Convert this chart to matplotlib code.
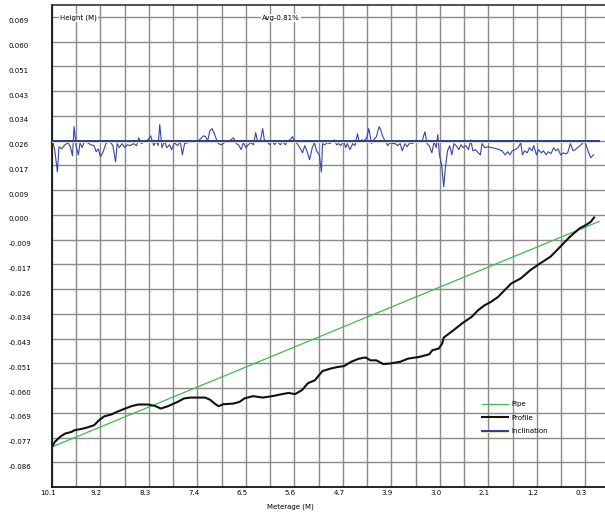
import numpy as np
import matplotlib
matplotlib.use("Agg")
import matplotlib.pyplot as plt
import matplotlib.patheffects as pe
from matplotlib.transforms import ScaledTranslation

# axis ticks (as printed on the chart)
x_tick_labels = ["10.1", "9.2", "8.3", "7.4", "6.5", "5.6", "4.7", "3.9", "3.0", "2.1", "1.2", "0.3"]
x_start, x_step = 10.15, 0.9
y_step = 0.06 / 7
y_tick_labels = ["0.069", "0.060", "0.051", "0.043", "0.034", "0.026", "0.017", "0.009", "0.000",
                 "-0.009", "-0.017", "-0.026", "-0.034", "-0.043", "-0.051", "-0.060", "-0.069",
                 "-0.077", "-0.086"]

# pipe (straight line between ends)
pipe_x = [10.15, 0.0]
pipe_y = [-0.0804, -0.0023]

# measured profile
profile_x = [10.15, 10.10, 10.00, 9.91, 9.79, 9.73, 9.64, 9.52, 9.37, 9.28, 9.18, 9.04, 8.95, 8.82,
             8.68, 8.55, 8.37, 8.24, 8.13, 8.00, 7.82, 7.70, 7.58, 7.31, 7.22, 7.13, 7.06, 6.97,
             6.79, 6.67, 6.58, 6.42, 6.24, 6.06, 5.88, 5.76, 5.64, 5.51, 5.40, 5.27, 5.22, 5.13,
             4.97, 4.85, 4.73, 4.60, 4.45, 4.33, 4.24, 4.13, 4.00, 3.88, 3.69, 3.54, 3.33, 3.15,
             3.09, 2.97, 2.91, 2.88, 2.78, 2.66, 2.54, 2.36, 2.24, 2.12, 2.00, 1.87, 1.75, 1.63,
             1.45, 1.27, 1.09, 0.90, 0.72, 0.54, 0.36, 0.24, 0.15, 0.09]
profile_y = [-0.0804, -0.0787, -0.0769, -0.0758, -0.0752, -0.0746, -0.0743, -0.0738, -0.0729,
             -0.0712, -0.0698, -0.0691, -0.0683, -0.0673, -0.0663, -0.0657, -0.0657, -0.0662,
             -0.0671, -0.0663, -0.0648, -0.0636, -0.0633, -0.0633, -0.0640, -0.0654, -0.0663,
             -0.0656, -0.0654, -0.0648, -0.0636, -0.0628, -0.0633, -0.0628, -0.0621, -0.0617,
             -0.0621, -0.0607, -0.0583, -0.0573, -0.0561, -0.0541, -0.0532, -0.0527, -0.0524,
             -0.0509, -0.0498, -0.0494, -0.0504, -0.0504, -0.0517, -0.0515, -0.0509, -0.0498,
             -0.0492, -0.0483, -0.0469, -0.0463, -0.0446, -0.0425, -0.0411, -0.0394, -0.0376,
             -0.0353, -0.0330, -0.0313, -0.0301, -0.0284, -0.0261, -0.0238, -0.0220, -0.0191,
             -0.0168, -0.0145, -0.0111, -0.0076, -0.0047, -0.0035, -0.0024, -0.0009]

# inclination
incl_base = 0.0257
incl_x = [10.15, 10.14, 10.10, 10.05, 10.02, 9.97, 9.91, 9.85, 9.81, 9.77, 9.74,
          9.70, 9.66, 9.63, 9.59, 9.55, 9.49, 9.43, 9.37, 9.33, 9.29,
          9.25, 9.20, 9.15, 9.11, 9.06, 9.02, 8.97, 8.94, 8.90, 8.85,
          8.80, 8.75, 8.70, 8.64, 8.58, 8.54, 8.49, 8.43, 8.37, 8.32,
          8.29, 8.26, 8.22, 8.18, 8.15, 8.11, 8.06, 8.02, 7.97, 7.93,
          7.88, 7.82, 7.77, 7.73, 7.69,
          7.55, 7.43, 7.34, 7.30, 7.26, 7.22, 7.18, 7.13, 7.09, 7.06,
          7.01, 6.95, 6.89, 6.83, 6.78, 6.73, 6.69, 6.64, 6.60, 6.55,
          6.51, 6.46, 6.41, 6.37, 6.33, 6.28, 6.24, 6.21, 6.16, 6.11,
          6.07, 6.02, 5.98, 5.91, 5.87, 5.82, 5.78, 5.73, 5.69, 5.64,
          5.60, 5.55, 5.50, 5.46, 5.42, 5.37, 5.32, 5.28, 5.24, 5.19,
          5.15,
          5.13, 5.09, 5.04, 4.99, 4.95, 4.91, 4.87, 4.83, 4.79, 4.74,
          4.70, 4.67, 4.62, 4.57, 4.53, 4.48, 4.45, 4.40, 4.36, 4.31,
          4.27, 4.22, 4.18, 4.13, 4.08, 4.05, 4.01, 3.97, 3.92, 3.88,
          3.83, 3.78, 3.74, 3.69, 3.65, 3.60, 3.56, 3.51, 3.47, 3.40,
          3.34, 3.28, 3.23, 3.19, 3.15, 3.10, 3.06, 3.02, 2.99, 2.96,
          2.92, 2.88, 2.85, 2.81, 2.77, 2.73, 2.69,
          2.65, 2.60, 2.56, 2.52, 2.47, 2.42, 2.38, 2.34, 2.29, 2.24,
          2.20, 2.17, 2.12, 2.06, 1.99, 1.89, 1.80, 1.74, 1.69, 1.65,
          1.61, 1.56, 1.50, 1.45, 1.42, 1.38, 1.33, 1.29, 1.24, 1.21,
          1.16, 1.12, 1.07, 1.03, 0.98, 0.94, 0.89, 0.84, 0.80, 0.76,
          0.71, 0.66, 0.62, 0.58, 0.53, 0.48, 0.44, 0.40, 0.35, 0.31,
          0.27, 0.24, 0.19, 0.15, 0.10]
incl_y = [0.0257, 0.0257, 0.0226, 0.0149, 0.0236, 0.0229, 0.0243, 0.0250, 0.0236, 0.0205, 0.0306,
          0.0236, 0.0208, 0.0250, 0.0233, 0.0254, 0.0250, 0.0243, 0.0240, 0.0219, 0.0229,
          0.0201, 0.0219, 0.0247, 0.0254, 0.0250, 0.0240, 0.0184, 0.0247, 0.0233, 0.0247,
          0.0233, 0.0243, 0.0240, 0.0247, 0.0240, 0.0267, 0.0247, 0.0254, 0.0260, 0.0274,
          0.0257, 0.0240, 0.0257, 0.0240, 0.0313, 0.0233, 0.0254, 0.0233, 0.0243, 0.0226,
          0.0250, 0.0240, 0.0254, 0.0208, 0.0247,
          0.0254, 0.0257, 0.0274, 0.0271, 0.0257, 0.0292, 0.0299, 0.0278, 0.0257, 0.0247,
          0.0243, 0.0250, 0.0254, 0.0260, 0.0267, 0.0247, 0.0243, 0.0226, 0.0250, 0.0233,
          0.0243, 0.0250, 0.0243, 0.0285, 0.0250, 0.0260, 0.0299, 0.0260, 0.0254, 0.0243,
          0.0257, 0.0243, 0.0254, 0.0243, 0.0254, 0.0243, 0.0257, 0.0260, 0.0271, 0.0254,
          0.0247, 0.0233, 0.0215, 0.0240, 0.0222, 0.0191, 0.0233, 0.0250, 0.0222, 0.0208,
          0.0149,
          0.0247, 0.0243, 0.0250, 0.0247, 0.0254, 0.0260, 0.0243, 0.0247, 0.0240, 0.0257,
          0.0233, 0.0247, 0.0226, 0.0247, 0.0240, 0.0281, 0.0254, 0.0260, 0.0257, 0.0267,
          0.0299, 0.0247, 0.0260, 0.0271, 0.0306, 0.0295, 0.0271, 0.0257, 0.0240, 0.0250,
          0.0247, 0.0247, 0.0240, 0.0247, 0.0222, 0.0247, 0.0236, 0.0250, 0.0247, 0.0254,
          0.0250, 0.0257, 0.0288, 0.0247, 0.0240, 0.0215, 0.0254, 0.0233, 0.0278, 0.0208,
          0.0174, 0.0097, 0.0163, 0.0222, 0.0240, 0.0208, 0.0247,
          0.0240, 0.0226, 0.0243, 0.0233, 0.0240, 0.0226, 0.0260, 0.0222, 0.0226, 0.0215,
          0.0208, 0.0247, 0.0233, 0.0236, 0.0233, 0.0229, 0.0222, 0.0208, 0.0219, 0.0208,
          0.0222, 0.0226, 0.0233, 0.0250, 0.0208, 0.0222, 0.0215, 0.0233, 0.0222, 0.0240,
          0.0208, 0.0226, 0.0215, 0.0222, 0.0208, 0.0219, 0.0212, 0.0233, 0.0222, 0.0229,
          0.0208, 0.0215, 0.0212, 0.0215, 0.0247, 0.0222, 0.0226, 0.0233, 0.0240, 0.0247,
          0.0254, 0.0243, 0.0215, 0.0198, 0.0208]

fig = plt.figure(figsize=(6.05, 5.15), dpi=100)
ax = fig.add_axes([52/605, 1 - 487/515, 557.7/605, 482/515])

ax.plot(pipe_x, pipe_y, color="#3dba4e", lw=0.9, label="Pipe", zorder=3)
ax.plot(profile_x, profile_y, color="#111111", lw=1.5, label="Profile", zorder=4)
ax.plot(incl_x, incl_y, color="#3446a8", lw=0.8, zorder=3)
base, = ax.plot([x_start, 0.0], [incl_base, incl_base], color="#2c3c9e", lw=1.4, label="Inclination",
                zorder=3, path_effects=[pe.SimpleLineShadow(offset=(0, -1.0), shadow_color="#efe0a0",
                                                            alpha=1.0, rho=1.0), pe.Normal()])

# axes / grid
n_x = len(x_tick_labels)
major_x = [x_start - i * x_step for i in range(n_x)]
minor_x = [x_start - x_step / 2 - i * x_step for i in range(n_x)]
ax.set_xlim(x_start, 0.0)
ax.set_xticks(major_x)
ax.set_xticklabels(x_tick_labels)
ax.set_xticks(minor_x, minor=True)

y_ticks = [(8 - i) * y_step for i in range(len(y_tick_labels))]
ax.set_ylim(-11 * y_step, 8.485 * y_step)
ax.set_yticks(y_ticks)
ax.set_yticklabels(y_tick_labels)

ax.grid(True, which="both", color="#8a8a8a", lw=1.0)
ax.set_axisbelow(True)
ax.tick_params(which="both", length=0)
ax.tick_params(axis="x", labelsize=5, pad=2.5)
ax.tick_params(axis="y", labelsize=5, pad=31)
for lbl in ax.get_yticklabels():
    lbl.set_horizontalalignment("left")
    lbl.set_transform(lbl.get_transform() + ScaledTranslation(0, -4/100, fig.dpi_scale_trans))
for lbl in ax.get_xticklabels():
    lbl.set_transform(lbl.get_transform() + ScaledTranslation(-4/100, 0, fig.dpi_scale_trans))

for s in ["left", "bottom"]:
    ax.spines[s].set_color("#111111")
    ax.spines[s].set_linewidth(1.3)
ax.spines["top"].set_color("#333333")
ax.spines["top"].set_linewidth(1.2)

box = dict(facecolor="white", edgecolor="none", pad=0.6)
fig.text(60/605, 1 - 18/515, "Height (M)", fontsize=5, va="center", ha="left", bbox=box)
fig.text(262/605, 1 - 18/515, "Avg-0.81%", fontsize=5, va="center", ha="left", bbox=box)
fig.text(290/605, 1 - 507/515, "Meterage (M)", fontsize=5, va="center", ha="center")

ax.legend(loc="upper left", bbox_to_anchor=(482/605, 1 - 401/515), bbox_transform=fig.transFigure,
          frameon=False, fontsize=5, handlelength=3.8, handletextpad=0.5, labelspacing=1.1,
          borderpad=0, borderaxespad=0)

fig.savefig("out.png", dpi=100)
